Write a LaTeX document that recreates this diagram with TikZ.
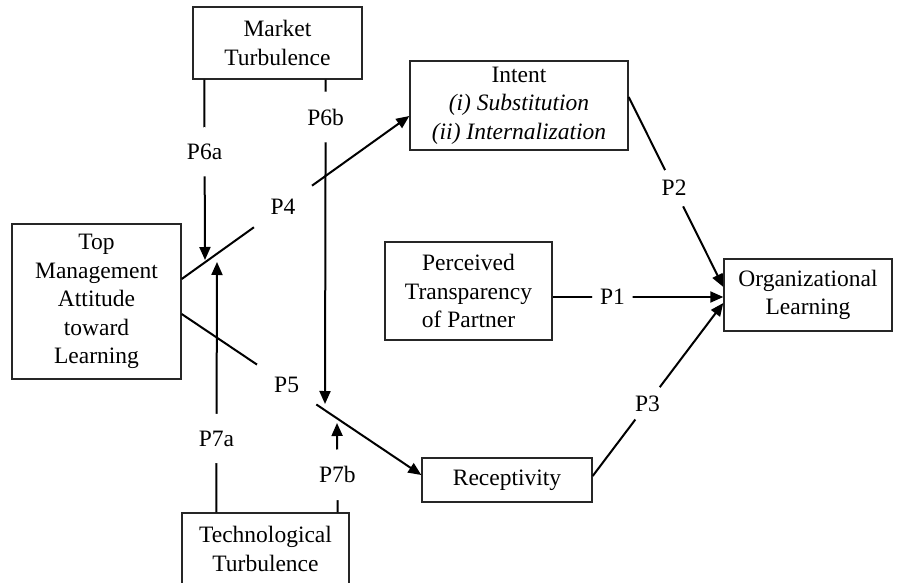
\documentclass[tikz,border=0pt]{standalone}
\usepackage{fontspec}
\setmainfont{Liberation Serif}
\usetikzlibrary{arrows.meta}
\begin{document}
\begin{tikzpicture}[x=1pt,y=-1pt,
  box/.style={draw=black!85, line width=1.4pt, align=center, inner sep=0pt,
    font=\fontsize{23.5}{28.5}\selectfont},
  conn/.style={line width=2pt, black},
  arr/.style={conn, -{Triangle[length=13pt,width=11pt]}},
  lbl/.style={circle, fill=white, inner sep=4pt, font=\fontsize{23.5}{28.5}\selectfont},
  lblw/.style={lbl, inner sep=15pt}]
\useasboundingbox (0,0) rectangle (904,583);
\fill[white] (0,0) rectangle (904,583);
% boxes
\node[box, minimum width=169pt, minimum height=72pt] (market) at (277.5,43) {Market\\Turbulence};
\node[box, minimum width=218pt, minimum height=89pt] (intent) at (519,105.5) {Intent\\\textit{(i) Substitution}\\\textit{(ii) Internalization}};
\node[box, minimum width=169pt, minimum height=155pt] (tm) at (96.5,301.5) {Top\\Management\\Attitude\\toward\\Learning};
\node[box, minimum width=167pt, minimum height=98pt] (pt) at (468.5,291) {Perceived\\Transparency\\of Partner};
\node[box, minimum width=168pt, minimum height=72pt] (org) at (808,295) {Organizational\\Learning};
\node[box, minimum width=170pt, minimum height=44pt] (rec) at (507,480) {Receptivity};
\node[box, minimum width=167pt, minimum height=72pt] (tech) at (265.5,549) {Technological\\Turbulence};
% end points of moderator arrows on the paths
\coordinate (m6a) at (205,260);
\coordinate (m6b) at (325,404);
\coordinate (m7a) at (217,262);
\coordinate (m7b) at (337,423);
% main paths
\draw[arr] ([yshift=22.5pt]tm.east) -- node[lblw, pos=0.445] (l4) {P4} ([yshift=-10.5pt]intent.west);
\draw[arr] ([yshift=-12.5pt]tm.east) -- node[lblw, pos=0.438] (l5) {P5} ([yshift=5pt]rec.west);
\draw[arr] ([yshift=8.5pt]intent.east) -- node[lbl, pos=0.48] (l2) {P2} ([yshift=8pt]org.west);
\draw[arr] ([yshift=-6pt]pt.east) -- node[lbl, pos=0.35] (l1) {P1} ([yshift=-2pt]org.west);
\draw[arr] ([yshift=4pt]rec.east) -- node[lbl, pos=0.42] (l3) {P3} ([yshift=-8pt]org.west);
% moderators
\draw[arr] ([xshift=12pt]market.south west) -- node[lbl, pos=0.40] (l6a) {P6a} (m6a);
\draw[arr] ([xshift=-37pt]market.south east) -- node[lbl, pos=0.115] (l6b) {P6b} (m6b);
\draw[arr] ([xshift=35pt]tech.north west) -- node[lbl, pos=0.295] (l7a) {P7a} (m7a);
\draw[arr] ([xshift=-12pt]tech.north east) -- node[lbl, pos=0.42] (l7b) {P7b} (m7b);
\end{tikzpicture}
\end{document}
